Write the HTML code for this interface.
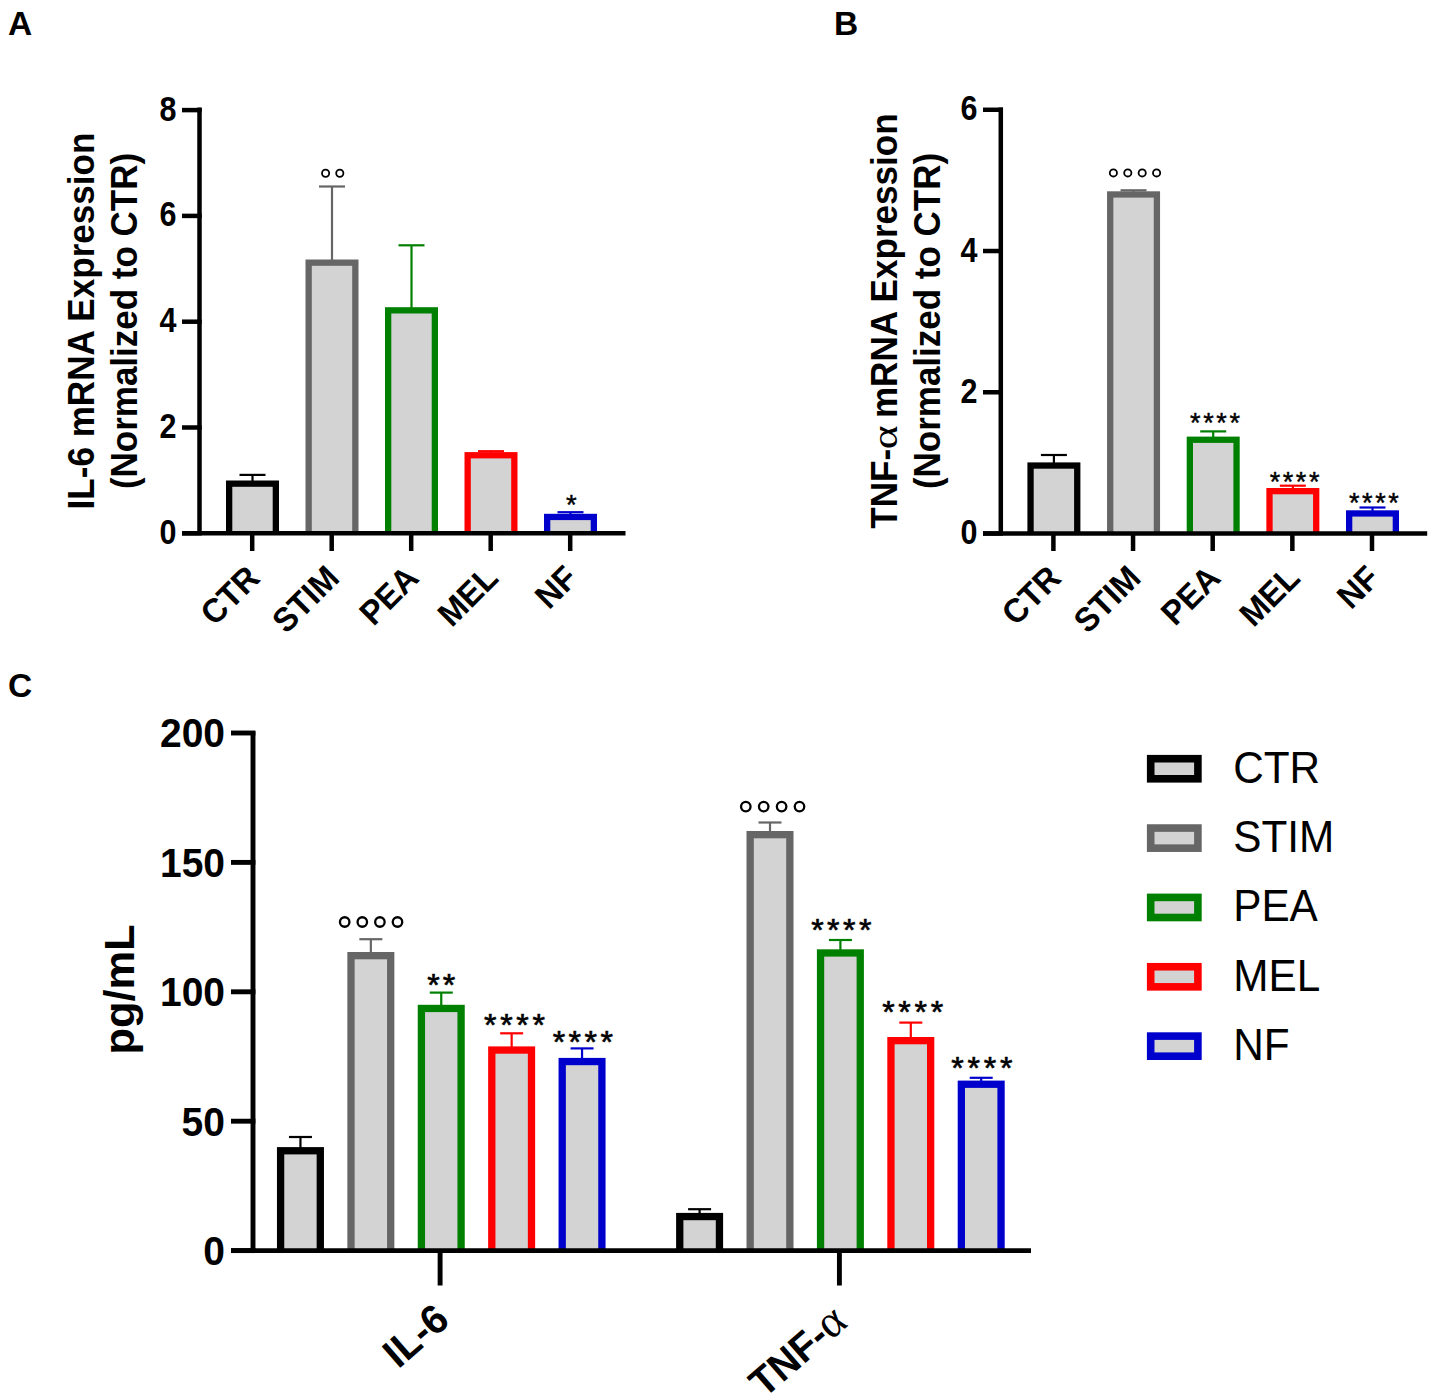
<!DOCTYPE html>
<html><head><meta charset="utf-8"><title>Figure</title>
<style>html,body{margin:0;padding:0;background:#fff;}svg{display:block;}</style>
</head><body>
<svg width="1430" height="1393" viewBox="0 0 1430 1393">
<rect width="1430" height="1393" fill="#fff"/>
<text x="8" y="35" font-family='"Liberation Sans", sans-serif' font-size="33.5" font-weight="bold" text-anchor="start" >A</text>
<text x="834" y="35" font-family='"Liberation Sans", sans-serif' font-size="33.5" font-weight="bold" text-anchor="start" >B</text>
<text x="8" y="696.5" font-family='"Liberation Sans", sans-serif' font-size="33.5" font-weight="bold" text-anchor="start" >C</text>
<line x1="252.5" y1="481.5" x2="252.5" y2="474.9" stroke="#000000" stroke-width="2.2"/>
<line x1="239.5" y1="474.9" x2="265.5" y2="474.9" stroke="#000000" stroke-width="2.2"/>
<rect x="226" y="480.5" width="53" height="52.8" fill="#000000"/>
<rect x="232.3" y="486.8" width="40.4" height="46.5" fill="#d3d3d3"/>
<line x1="332" y1="260.5" x2="332" y2="186.5" stroke="#666666" stroke-width="2.2"/>
<line x1="319" y1="186.5" x2="345" y2="186.5" stroke="#666666" stroke-width="2.2"/>
<rect x="305.5" y="259.5" width="53" height="273.8" fill="#666666"/>
<rect x="311.8" y="265.8" width="40.4" height="267.5" fill="#d3d3d3"/>
<line x1="411.5" y1="308.2" x2="411.5" y2="245.3" stroke="#008000" stroke-width="2.2"/>
<line x1="398.5" y1="245.3" x2="424.5" y2="245.3" stroke="#008000" stroke-width="2.2"/>
<rect x="385" y="307.2" width="53" height="226.1" fill="#008000"/>
<rect x="391.3" y="313.5" width="40.4" height="219.8" fill="#d3d3d3"/>
<line x1="491" y1="453.1" x2="491" y2="451.2" stroke="#ff0000" stroke-width="2.2"/>
<line x1="478" y1="451.2" x2="504" y2="451.2" stroke="#ff0000" stroke-width="2.2"/>
<rect x="464.5" y="452.1" width="53" height="81.2" fill="#ff0000"/>
<rect x="470.8" y="458.4" width="40.4" height="74.9" fill="#d3d3d3"/>
<line x1="570.5" y1="514.8" x2="570.5" y2="512.2" stroke="#0000cc" stroke-width="2.2"/>
<line x1="557.5" y1="512.2" x2="583.5" y2="512.2" stroke="#0000cc" stroke-width="2.2"/>
<rect x="544" y="513.8" width="53" height="19.5" fill="#0000cc"/>
<rect x="550.3" y="520.1" width="40.4" height="13.2" fill="#d3d3d3"/>
<line x1="199.5" y1="107.6" x2="199.5" y2="533.3" stroke="#000" stroke-width="4.5"/>
<line x1="182" y1="533.3" x2="625.5" y2="533.3" stroke="#000" stroke-width="4.5"/>
<line x1="182" y1="533.3" x2="201.7" y2="533.3" stroke="#000" stroke-width="4.5"/>
<text transform="translate(176.4,543.8) scale(1,1.13)" font-family='"Liberation Sans", sans-serif' font-size="30.5" font-weight="bold" text-anchor="end">0</text>
<line x1="182" y1="427.5" x2="201.7" y2="427.5" stroke="#000" stroke-width="4.5"/>
<text transform="translate(176.4,438) scale(1,1.13)" font-family='"Liberation Sans", sans-serif' font-size="30.5" font-weight="bold" text-anchor="end">2</text>
<line x1="182" y1="321.7" x2="201.7" y2="321.7" stroke="#000" stroke-width="4.5"/>
<text transform="translate(176.4,332.2) scale(1,1.13)" font-family='"Liberation Sans", sans-serif' font-size="30.5" font-weight="bold" text-anchor="end">4</text>
<line x1="182" y1="215.9" x2="201.7" y2="215.9" stroke="#000" stroke-width="4.5"/>
<text transform="translate(176.4,226.4) scale(1,1.13)" font-family='"Liberation Sans", sans-serif' font-size="30.5" font-weight="bold" text-anchor="end">6</text>
<line x1="182" y1="110.1" x2="201.7" y2="110.1" stroke="#000" stroke-width="4.5"/>
<text transform="translate(176.4,120.6) scale(1,1.13)" font-family='"Liberation Sans", sans-serif' font-size="30.5" font-weight="bold" text-anchor="end">8</text>
<line x1="252.2" y1="533.3" x2="252.2" y2="551" stroke="#000" stroke-width="4.5"/>
<line x1="331.7" y1="533.3" x2="331.7" y2="551" stroke="#000" stroke-width="4.5"/>
<line x1="411.2" y1="533.3" x2="411.2" y2="551" stroke="#000" stroke-width="4.5"/>
<line x1="490.7" y1="533.3" x2="490.7" y2="551" stroke="#000" stroke-width="4.5"/>
<line x1="570.2" y1="533.3" x2="570.2" y2="551" stroke="#000" stroke-width="4.5"/>
<circle cx="325.6" cy="173.3" r="3.6" fill="none" stroke="#000" stroke-width="1.8"/>
<circle cx="339.8" cy="173.3" r="3.6" fill="none" stroke="#000" stroke-width="1.8"/>
<text x="565.98" y="514.24" font-family='"Liberation Sans", sans-serif' font-size="27.49" font-weight="normal" letter-spacing="0" stroke="#000" stroke-width="0.45" stroke-linejoin="round">*</text>
<text transform="translate(261.5,580) rotate(-45) scale(1,1.04)" font-family='"Liberation Sans", sans-serif' font-size="32.4" font-weight="bold" text-anchor="end">CTR</text>
<text transform="translate(341,580) rotate(-45) scale(1,1.04)" font-family='"Liberation Sans", sans-serif' font-size="32.4" font-weight="bold" text-anchor="end">STIM</text>
<text transform="translate(420.5,580) rotate(-45) scale(1,1.04)" font-family='"Liberation Sans", sans-serif' font-size="32.4" font-weight="bold" text-anchor="end">PEA</text>
<text transform="translate(500,580) rotate(-45) scale(1,1.04)" font-family='"Liberation Sans", sans-serif' font-size="32.4" font-weight="bold" text-anchor="end">MEL</text>
<text transform="translate(579.5,580) rotate(-45) scale(1,1.04)" font-family='"Liberation Sans", sans-serif' font-size="32.4" font-weight="bold" text-anchor="end">NF</text>
<text transform="translate(94.2,321) rotate(-90) scale(1,1.04)" font-family='"Liberation Sans", sans-serif' font-size="35.1" font-weight="bold" text-anchor="middle">IL-6 mRNA Expression</text>
<text transform="translate(137.3,321) rotate(-90) scale(1,1.04)" font-family='"Liberation Sans", sans-serif' font-size="35" font-weight="bold" text-anchor="middle">(Normalized to CTR)</text>
<line x1="1053.9" y1="463.4" x2="1053.9" y2="455" stroke="#000000" stroke-width="2.2"/>
<line x1="1040.9" y1="455" x2="1066.9" y2="455" stroke="#000000" stroke-width="2.2"/>
<rect x="1027.4" y="462.4" width="53" height="71.1" fill="#000000"/>
<rect x="1033.7" y="468.7" width="40.4" height="64.8" fill="#d3d3d3"/>
<line x1="1133.55" y1="192.3" x2="1133.55" y2="190.3" stroke="#666666" stroke-width="2.2"/>
<line x1="1120.55" y1="190.3" x2="1146.55" y2="190.3" stroke="#666666" stroke-width="2.2"/>
<rect x="1107.05" y="191.3" width="53" height="342.2" fill="#666666"/>
<rect x="1113.35" y="197.6" width="40.4" height="335.9" fill="#d3d3d3"/>
<line x1="1213.2" y1="437.6" x2="1213.2" y2="431.4" stroke="#008000" stroke-width="2.2"/>
<line x1="1200.2" y1="431.4" x2="1226.2" y2="431.4" stroke="#008000" stroke-width="2.2"/>
<rect x="1186.7" y="436.6" width="53" height="96.9" fill="#008000"/>
<rect x="1193" y="442.9" width="40.4" height="90.6" fill="#d3d3d3"/>
<line x1="1292.85" y1="489" x2="1292.85" y2="485.7" stroke="#ff0000" stroke-width="2.2"/>
<line x1="1279.85" y1="485.7" x2="1305.85" y2="485.7" stroke="#ff0000" stroke-width="2.2"/>
<rect x="1266.35" y="488" width="53" height="45.5" fill="#ff0000"/>
<rect x="1272.65" y="494.3" width="40.4" height="39.2" fill="#d3d3d3"/>
<line x1="1372.5" y1="511.3" x2="1372.5" y2="507.5" stroke="#0000cc" stroke-width="2.2"/>
<line x1="1359.5" y1="507.5" x2="1385.5" y2="507.5" stroke="#0000cc" stroke-width="2.2"/>
<rect x="1346" y="510.3" width="53" height="23.2" fill="#0000cc"/>
<rect x="1352.3" y="516.6" width="40.4" height="16.9" fill="#d3d3d3"/>
<line x1="1000.8" y1="107.6" x2="1000.8" y2="533.5" stroke="#000" stroke-width="4.5"/>
<line x1="983" y1="533.5" x2="1427.2" y2="533.5" stroke="#000" stroke-width="4.5"/>
<line x1="983" y1="533.5" x2="1003" y2="533.5" stroke="#000" stroke-width="4.5"/>
<text transform="translate(977.4,544) scale(1,1.13)" font-family='"Liberation Sans", sans-serif' font-size="30.5" font-weight="bold" text-anchor="end">0</text>
<line x1="983" y1="392.26" x2="1003" y2="392.26" stroke="#000" stroke-width="4.5"/>
<text transform="translate(977.4,402.76) scale(1,1.13)" font-family='"Liberation Sans", sans-serif' font-size="30.5" font-weight="bold" text-anchor="end">2</text>
<line x1="983" y1="251.02" x2="1003" y2="251.02" stroke="#000" stroke-width="4.5"/>
<text transform="translate(977.4,261.52) scale(1,1.13)" font-family='"Liberation Sans", sans-serif' font-size="30.5" font-weight="bold" text-anchor="end">4</text>
<line x1="983" y1="109.78" x2="1003" y2="109.78" stroke="#000" stroke-width="4.5"/>
<text transform="translate(977.4,120.28) scale(1,1.13)" font-family='"Liberation Sans", sans-serif' font-size="30.5" font-weight="bold" text-anchor="end">6</text>
<line x1="1053.4" y1="533.5" x2="1053.4" y2="551" stroke="#000" stroke-width="4.5"/>
<line x1="1133.05" y1="533.5" x2="1133.05" y2="551" stroke="#000" stroke-width="4.5"/>
<line x1="1212.7" y1="533.5" x2="1212.7" y2="551" stroke="#000" stroke-width="4.5"/>
<line x1="1292.35" y1="533.5" x2="1292.35" y2="551" stroke="#000" stroke-width="4.5"/>
<line x1="1372" y1="533.5" x2="1372" y2="551" stroke="#000" stroke-width="4.5"/>
<circle cx="1113.4" cy="172.9" r="3.6" fill="none" stroke="#000" stroke-width="1.8"/>
<circle cx="1127.8" cy="172.9" r="3.6" fill="none" stroke="#000" stroke-width="1.8"/>
<circle cx="1142.2" cy="172.9" r="3.6" fill="none" stroke="#000" stroke-width="1.8"/>
<circle cx="1156.6" cy="172.9" r="3.6" fill="none" stroke="#000" stroke-width="1.8"/>
<text x="1189.99" y="431.57" font-family='"Liberation Sans", sans-serif' font-size="27" font-weight="normal" letter-spacing="2.67" stroke="#000" stroke-width="0.45" stroke-linejoin="round">****</text>
<text x="1269.69" y="490.57" font-family='"Liberation Sans", sans-serif' font-size="27" font-weight="normal" letter-spacing="2.57" stroke="#000" stroke-width="0.45" stroke-linejoin="round">****</text>
<text x="1348.99" y="511.67" font-family='"Liberation Sans", sans-serif' font-size="27" font-weight="normal" letter-spacing="2.57" stroke="#000" stroke-width="0.45" stroke-linejoin="round">****</text>
<text transform="translate(1062.9,580) rotate(-45) scale(1,1.04)" font-family='"Liberation Sans", sans-serif' font-size="32.4" font-weight="bold" text-anchor="end">CTR</text>
<text transform="translate(1142.55,580) rotate(-45) scale(1,1.04)" font-family='"Liberation Sans", sans-serif' font-size="32.4" font-weight="bold" text-anchor="end">STIM</text>
<text transform="translate(1222.2,580) rotate(-45) scale(1,1.04)" font-family='"Liberation Sans", sans-serif' font-size="32.4" font-weight="bold" text-anchor="end">PEA</text>
<text transform="translate(1301.85,580) rotate(-45) scale(1,1.04)" font-family='"Liberation Sans", sans-serif' font-size="32.4" font-weight="bold" text-anchor="end">MEL</text>
<text transform="translate(1381.5,580) rotate(-45) scale(1,1.04)" font-family='"Liberation Sans", sans-serif' font-size="32.4" font-weight="bold" text-anchor="end">NF</text>
<g transform="translate(897.2,321) rotate(-90)"><text transform="scale(1,1.04)" font-family='"Liberation Sans", sans-serif' font-size="35.1" font-weight="bold" text-anchor="middle">TNF-<tspan fill-opacity="0" font-family='"Liberation Serif", serif' font-weight="normal" font-size="40">&#945;</tspan> mRNA Expression</text><text transform="translate(-128.3,0) scale(1.14,0.885)" font-family='"Liberation Serif", serif' font-size="40" font-weight="normal">&#945;</text></g>
<text transform="translate(939.5,321) rotate(-90) scale(1,1.04)" font-family='"Liberation Sans", sans-serif' font-size="35" font-weight="bold" text-anchor="middle">(Normalized to CTR)</text>
<line x1="300.45" y1="1148.1" x2="300.45" y2="1137" stroke="#000000" stroke-width="2.2"/>
<line x1="288.95" y1="1137" x2="311.95" y2="1137" stroke="#000000" stroke-width="2.2"/>
<rect x="276.95" y="1147.1" width="47" height="103.5" fill="#000000"/>
<rect x="284.25" y="1154.4" width="32.4" height="96.2" fill="#d3d3d3"/>
<line x1="699.6" y1="1213.9" x2="699.6" y2="1209.2" stroke="#000000" stroke-width="2.2"/>
<line x1="688.1" y1="1209.2" x2="711.1" y2="1209.2" stroke="#000000" stroke-width="2.2"/>
<rect x="676.1" y="1212.9" width="47" height="37.7" fill="#000000"/>
<rect x="683.4" y="1220.2" width="32.4" height="30.4" fill="#d3d3d3"/>
<line x1="370.85" y1="953" x2="370.85" y2="939.2" stroke="#666666" stroke-width="2.2"/>
<line x1="359.35" y1="939.2" x2="382.35" y2="939.2" stroke="#666666" stroke-width="2.2"/>
<rect x="347.35" y="952" width="47" height="298.6" fill="#666666"/>
<rect x="354.65" y="959.3" width="32.4" height="291.3" fill="#d3d3d3"/>
<line x1="770" y1="832" x2="770" y2="822.5" stroke="#666666" stroke-width="2.2"/>
<line x1="758.5" y1="822.5" x2="781.5" y2="822.5" stroke="#666666" stroke-width="2.2"/>
<rect x="746.5" y="831" width="47" height="419.6" fill="#666666"/>
<rect x="753.8" y="838.3" width="32.4" height="412.3" fill="#d3d3d3"/>
<line x1="441.25" y1="1005.8" x2="441.25" y2="992.6" stroke="#008000" stroke-width="2.2"/>
<line x1="429.75" y1="992.6" x2="452.75" y2="992.6" stroke="#008000" stroke-width="2.2"/>
<rect x="417.75" y="1004.8" width="47" height="245.8" fill="#008000"/>
<rect x="425.05" y="1012.1" width="32.4" height="238.5" fill="#d3d3d3"/>
<line x1="840.4" y1="950.3" x2="840.4" y2="940" stroke="#008000" stroke-width="2.2"/>
<line x1="828.9" y1="940" x2="851.9" y2="940" stroke="#008000" stroke-width="2.2"/>
<rect x="816.9" y="949.3" width="47" height="301.3" fill="#008000"/>
<rect x="824.2" y="956.6" width="32.4" height="294" fill="#d3d3d3"/>
<line x1="511.65" y1="1047.4" x2="511.65" y2="1033.3" stroke="#ff0000" stroke-width="2.2"/>
<line x1="500.15" y1="1033.3" x2="523.15" y2="1033.3" stroke="#ff0000" stroke-width="2.2"/>
<rect x="488.15" y="1046.4" width="47" height="204.2" fill="#ff0000"/>
<rect x="495.45" y="1053.7" width="32.4" height="196.9" fill="#d3d3d3"/>
<line x1="910.8" y1="1038" x2="910.8" y2="1022.6" stroke="#ff0000" stroke-width="2.2"/>
<line x1="899.3" y1="1022.6" x2="922.3" y2="1022.6" stroke="#ff0000" stroke-width="2.2"/>
<rect x="887.3" y="1037" width="47" height="213.6" fill="#ff0000"/>
<rect x="894.6" y="1044.3" width="32.4" height="206.3" fill="#d3d3d3"/>
<line x1="582.05" y1="1058.9" x2="582.05" y2="1048.4" stroke="#0000cc" stroke-width="2.2"/>
<line x1="570.55" y1="1048.4" x2="593.55" y2="1048.4" stroke="#0000cc" stroke-width="2.2"/>
<rect x="558.55" y="1057.9" width="47" height="192.7" fill="#0000cc"/>
<rect x="565.85" y="1065.2" width="32.4" height="185.4" fill="#d3d3d3"/>
<line x1="981.2" y1="1081.6" x2="981.2" y2="1077.8" stroke="#0000cc" stroke-width="2.2"/>
<line x1="969.7" y1="1077.8" x2="992.7" y2="1077.8" stroke="#0000cc" stroke-width="2.2"/>
<rect x="957.7" y="1080.6" width="47" height="170" fill="#0000cc"/>
<rect x="965" y="1087.9" width="32.4" height="162.7" fill="#d3d3d3"/>
<line x1="253" y1="731.5" x2="253" y2="1250.6" stroke="#000" stroke-width="4.9"/>
<line x1="231" y1="1250.6" x2="1031" y2="1250.6" stroke="#000" stroke-width="4.9"/>
<line x1="231" y1="1250.6" x2="255.4" y2="1250.6" stroke="#000" stroke-width="4.9"/>
<text transform="translate(225,1265) scale(1,1.035)" font-family='"Liberation Sans", sans-serif' font-size="39" font-weight="bold" text-anchor="end">0</text>
<line x1="231" y1="1121.2" x2="255.4" y2="1121.2" stroke="#000" stroke-width="4.9"/>
<text transform="translate(225,1135.6) scale(1,1.035)" font-family='"Liberation Sans", sans-serif' font-size="39" font-weight="bold" text-anchor="end">50</text>
<line x1="231" y1="991.8" x2="255.4" y2="991.8" stroke="#000" stroke-width="4.9"/>
<text transform="translate(225,1006.2) scale(1,1.035)" font-family='"Liberation Sans", sans-serif' font-size="39" font-weight="bold" text-anchor="end">100</text>
<line x1="231" y1="862.4" x2="255.4" y2="862.4" stroke="#000" stroke-width="4.9"/>
<text transform="translate(225,876.8) scale(1,1.035)" font-family='"Liberation Sans", sans-serif' font-size="39" font-weight="bold" text-anchor="end">150</text>
<line x1="231" y1="733" x2="255.4" y2="733" stroke="#000" stroke-width="4.9"/>
<text transform="translate(225,747.4) scale(1,1.035)" font-family='"Liberation Sans", sans-serif' font-size="39" font-weight="bold" text-anchor="end">200</text>
<line x1="440.1" y1="1250.6" x2="440.1" y2="1285.5" stroke="#000" stroke-width="4.9"/>
<line x1="839.4" y1="1250.6" x2="839.4" y2="1285.5" stroke="#000" stroke-width="4.9"/>
<circle cx="344.7" cy="922" r="4.75" fill="none" stroke="#000" stroke-width="2.3"/>
<circle cx="362.3" cy="922" r="4.75" fill="none" stroke="#000" stroke-width="2.3"/>
<circle cx="379.9" cy="922" r="4.75" fill="none" stroke="#000" stroke-width="2.3"/>
<circle cx="397.5" cy="922" r="4.75" fill="none" stroke="#000" stroke-width="2.3"/>
<circle cx="745.8" cy="806.6" r="4.75" fill="none" stroke="#000" stroke-width="2.3"/>
<circle cx="763.7" cy="806.6" r="4.75" fill="none" stroke="#000" stroke-width="2.3"/>
<circle cx="781.6" cy="806.6" r="4.75" fill="none" stroke="#000" stroke-width="2.3"/>
<circle cx="799.5" cy="806.6" r="4.75" fill="none" stroke="#000" stroke-width="2.3"/>
<text x="427.13" y="996.03" font-family='"Liberation Sans", sans-serif' font-size="32" font-weight="normal" letter-spacing="3.13" stroke="#000" stroke-width="0.7" stroke-linejoin="round">**</text>
<text x="484.03" y="1035.83" font-family='"Liberation Sans", sans-serif' font-size="32" font-weight="normal" letter-spacing="3.71" stroke="#000" stroke-width="0.7" stroke-linejoin="round">****</text>
<text x="552.63" y="1052.73" font-family='"Liberation Sans", sans-serif' font-size="32" font-weight="normal" letter-spacing="3.51" stroke="#000" stroke-width="0.7" stroke-linejoin="round">****</text>
<text x="811.13" y="941.13" font-family='"Liberation Sans", sans-serif' font-size="32" font-weight="normal" letter-spacing="3.54" stroke="#000" stroke-width="0.7" stroke-linejoin="round">****</text>
<text x="882.13" y="1023.43" font-family='"Liberation Sans", sans-serif' font-size="32" font-weight="normal" letter-spacing="3.78" stroke="#000" stroke-width="0.7" stroke-linejoin="round">****</text>
<text x="951.23" y="1079.23" font-family='"Liberation Sans", sans-serif' font-size="32" font-weight="normal" letter-spacing="3.78" stroke="#000" stroke-width="0.7" stroke-linejoin="round">****</text>
<text transform="translate(451.6,1323) rotate(-41) scale(1,1.03)" font-family='"Liberation Sans", sans-serif' font-size="39.86" font-weight="bold" text-anchor="end">IL-6</text>
<text transform="translate(849.1,1325) rotate(-41) scale(1,1.03)" font-family='"Liberation Sans", sans-serif' font-size="39.08" font-weight="bold" text-anchor="end">TNF-<tspan font-family='"Liberation Serif", serif' font-weight="normal" font-size="45.09">&#945;</tspan></text>
<text transform="translate(134,989.5) rotate(-90)" font-family='"Liberation Sans", sans-serif' font-size="43.4" font-weight="bold" text-anchor="middle">pg/mL</text>
<rect x="1146.9" y="754.9" width="54.8" height="27.7" fill="#000000"/>
<rect x="1154.5" y="762.5" width="39.6" height="12.5" fill="#d3d3d3"/>
<text transform="translate(1233.2,782.7) scale(1,1.07)" font-family='"Liberation Sans", sans-serif' font-size="42.3" font-weight="normal">CTR</text>
<rect x="1146.9" y="824.25" width="54.8" height="27.7" fill="#666666"/>
<rect x="1154.5" y="831.85" width="39.6" height="12.5" fill="#d3d3d3"/>
<text transform="translate(1233.2,852.05) scale(1,1.07)" font-family='"Liberation Sans", sans-serif' font-size="42.3" font-weight="normal">STIM</text>
<rect x="1146.9" y="893.6" width="54.8" height="27.7" fill="#008000"/>
<rect x="1154.5" y="901.2" width="39.6" height="12.5" fill="#d3d3d3"/>
<text transform="translate(1233.2,921.4) scale(1,1.07)" font-family='"Liberation Sans", sans-serif' font-size="42.3" font-weight="normal">PEA</text>
<rect x="1146.9" y="962.95" width="54.8" height="27.7" fill="#ff0000"/>
<rect x="1154.5" y="970.55" width="39.6" height="12.5" fill="#d3d3d3"/>
<text transform="translate(1233.2,990.75) scale(1,1.07)" font-family='"Liberation Sans", sans-serif' font-size="42.3" font-weight="normal">MEL</text>
<rect x="1146.9" y="1032.3" width="54.8" height="27.7" fill="#0000cc"/>
<rect x="1154.5" y="1039.9" width="39.6" height="12.5" fill="#d3d3d3"/>
<text transform="translate(1233.2,1060.1) scale(1,1.07)" font-family='"Liberation Sans", sans-serif' font-size="42.3" font-weight="normal">NF</text>
</svg>
</body></html>
